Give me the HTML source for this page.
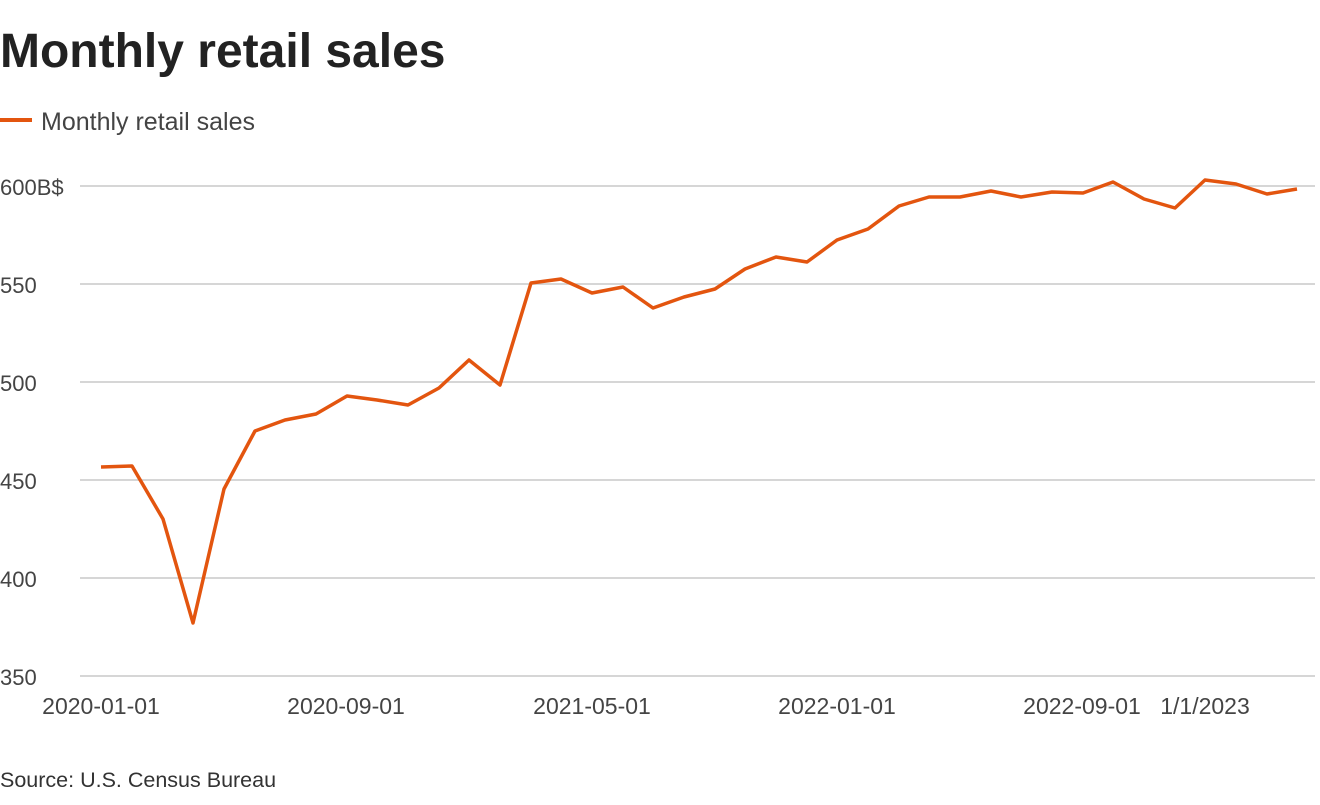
<!DOCTYPE html>
<html><head><meta charset="utf-8"><style>
html,body{margin:0;padding:0;background:#fff;}
body{width:1320px;height:800px;overflow:hidden;font-family:"Liberation Sans",sans-serif;}
</style></head><body>
<svg width="1320" height="800" xmlns="http://www.w3.org/2000/svg" font-family="Liberation Sans, sans-serif">
<text x="0" y="67" font-size="48" font-weight="bold" fill="#222">Monthly retail sales</text>
<line x1="0" y1="120" x2="32" y2="120" stroke="#e3550f" stroke-width="4"/>
<text x="41" y="130" font-size="25" fill="#444">Monthly retail sales</text>
<g stroke="#c8c8c8" stroke-width="1.5">
<line x1="80" y1="186" x2="1315" y2="186"/>
<line x1="80" y1="284" x2="1315" y2="284"/>
<line x1="80" y1="382" x2="1315" y2="382"/>
<line x1="80" y1="480" x2="1315" y2="480"/>
<line x1="80" y1="578" x2="1315" y2="578"/>
<line x1="80" y1="676" x2="1315" y2="676"/>
</g>
<g font-size="22" fill="#444">
<text x="0" y="195">600B$</text>
<text x="0" y="293">550</text>
<text x="0" y="391">500</text>
<text x="0" y="489">450</text>
<text x="0" y="587">400</text>
<text x="0" y="685">350</text>
</g>
<g font-size="23" fill="#444" text-anchor="middle">
<text x="101" y="714">2020-01-01</text>
<text x="346" y="714">2020-09-01</text>
<text x="592" y="714">2021-05-01</text>
<text x="837" y="714">2022-01-01</text>
<text x="1082" y="714">2022-09-01</text>
<text x="1205" y="714">1/1/2023</text>
</g>
<polyline fill="none" stroke="#e3550f" stroke-width="3.5" stroke-linejoin="round" points="101,467 132,466 163,519 193,623 224,489 255,431 285,420 316,414 347,396 377,400 408,405 439,388 469,360 500,385 531,283 561,279 592,293 623,287 653,308 684,297 715,289 745,269 776,257 807,262 837,240 868,229 899,206 929,197 960,197 991,191 1021,197 1052,192 1083,193 1113,182 1144,199 1175,208 1205,180 1236,184 1267,194 1297,189"/>
<text x="0" y="787" font-size="21.5" fill="#333">Source: U.S. Census Bureau</text>
</svg>
</body></html>
